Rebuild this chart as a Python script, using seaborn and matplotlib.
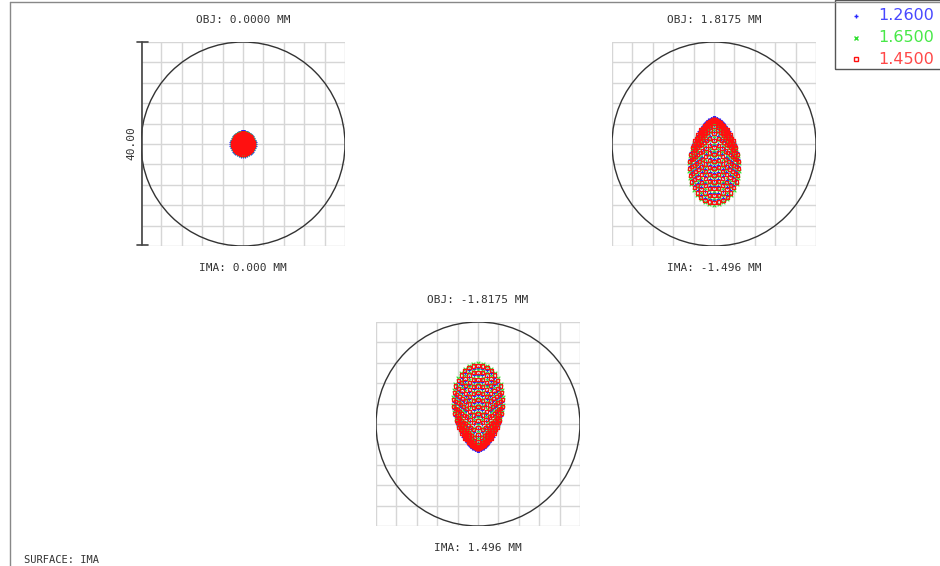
import numpy as np
import pandas as pd
import matplotlib.pyplot as plt
import seaborn as sns
from matplotlib.patches import Circle, Rectangle
from matplotlib.lines import Line2D

sns.set_style("white")
plt.rcParams["font.family"] = ["DejaVu Sans Mono", "DejaVu Sans"]

# wavelengths (um) and how each one is drawn
wavelengths = ["1.2600", "1.6500", "1.4500"]
wave_colors = ["#2828ff", "#30e030", "#ff1010"]
text_colors = ["#4848ff", "#48e848", "#ff4848"]
wave_markers = ["+", "x", "s"]

obj_labels = ["OBJ: 0.0000 MM", "OBJ: 1.8175 MM", "OBJ: -1.8175 MM"]
ima_labels = ["IMA: 0.000 MM", "IMA: -1.496 MM", "IMA: 1.496 MM"]

# spot extents, micrometres (box = 40 um, circle r = 20 um)
# rows = field, columns = wavelength (1.26, 1.65, 1.45)
spot_top = [[2.3, 2.1, 2.0], [5.1, 4.3, 4.7], [-5.1, -4.3, -4.7]]
spot_bottom = [[-2.3, -2.1, -2.0], [-11.0, -11.9, -11.5], [11.0, 11.9, 11.5]]
spot_halfwidth = [[2.3, 2.1, 2.0], [4.7, 4.9, 4.8], [4.7, 4.9, 4.8]]
tip_sharpness = [0.0, 0.12, 0.12]

# pupil rings (ring i carries 3*i rays)
n_rings = 12

rows = []
for f in range(3):
    k = tip_sharpness[f]
    norm = 1.0
    if k > 0:
        t = np.linspace(0, np.pi, 721)
        norm = np.max(np.sin(t) * ((1 - np.cos(t)) / 2) ** k)
    for w in range(3):
        half_len = (spot_top[f][w] - spot_bottom[f][w]) / 2
        for i in range(n_rings + 1):
            rho = i / n_rings
            n = max(1, 3 * i)
            th = 2 * np.pi * (np.arange(n) + 0.5 * (i % 2)) / n
            x = spot_halfwidth[f][w] * rho * np.sin(th) * ((1 - np.cos(th)) / 2) ** k / norm
            y = spot_top[f][w] - half_len * rho * (1 - np.cos(th))
            for xx, yy in zip(x, y):
                rows.append((f, wavelengths[w], xx, yy))
spots = pd.DataFrame(rows, columns=["field", "wave", "x", "y"])

W, H = 940, 566
fig = plt.figure(figsize=(W / 100, H / 100), dpi=100)


def fx(px):
    return px / W


def fy(py):
    return 1 - py / H


# panel boxes in pixels: left, top; square side
panels = [(141, 42), (612, 42), (376, 322)]
box = 204

for f, (left, top) in enumerate(panels):
    ax = fig.add_axes([fx(left), fy(top + box), box / W, box / H])
    for t in np.linspace(-20, 20, 11):
        ax.axvline(t, color="#d6d6d6", lw=1, zorder=0)
        ax.axhline(t, color="#d6d6d6", lw=1, zorder=0)
    ax.add_patch(Circle((0, 0), 20, fill=False, ec="#333333", lw=1.0, zorder=1))
    sub = spots[spots["field"] == f]
    for w, wave in enumerate(wavelengths):
        d = sub[sub["wave"] == wave]
        if wave_markers[w] == "s":
            sns.scatterplot(data=d, x="x", y="y", ax=ax, marker="s", s=5,
                            facecolor="none", edgecolor=wave_colors[w], linewidth=0.9,
                            zorder=3 + w, legend=False)
        else:
            sns.scatterplot(data=d, x="x", y="y", ax=ax, marker=wave_markers[w], s=7,
                            color=wave_colors[w], linewidth=0.8, zorder=3 + w, legend=False)
    ax.set_xlim(-20, 20)
    ax.set_ylim(-20, 20)
    ax.set_xticks([])
    ax.set_yticks([])
    ax.set_xlabel("")
    ax.set_ylabel("")
    for s in ax.spines.values():
        s.set_visible(False)
    cx = left + box / 2
    fig.text(fx(cx), fy(top - 22), obj_labels[f], ha="center", va="center",
             fontsize=8, color="#333333")
    fig.text(fx(cx), fy(top + box + 22), ima_labels[f], ha="center", va="center",
             fontsize=8, color="#333333")

# scale bar on first panel
bar_x = 142
fig.add_artist(Line2D([fx(bar_x), fx(bar_x)], [fy(42), fy(245)], color="#444444", lw=1.2))
for yy in (42, 245):
    fig.add_artist(Line2D([fx(137), fx(148)], [fy(yy), fy(yy)], color="#444444", lw=1.2))
fig.text(fx(131), fy(143), "40.00", rotation=90, ha="center", va="center",
         fontsize=8, color="#333333")

# outer frame
fig.add_artist(Line2D([fx(10), fx(10)], [fy(2), 0], color="#888888", lw=1))
fig.add_artist(Line2D([fx(10), 1], [fy(2), fy(2)], color="#888888", lw=1))

fig.text(fx(24), fy(560), "SURFACE: IMA", ha="left", va="center", fontsize=7.5, color="#333333")

# legend box
fig.add_artist(Rectangle((fx(835), fy(69)), fx(110), 69 / H, fill=False,
                         ec="#555555", lw=1, transform=fig.transFigure))
for i, wave in enumerate(wavelengths):
    yy = fy(16 + 21.5 * i)
    mk = wave_markers[i]
    if mk == "s":
        fig.add_artist(Line2D([fx(856)], [yy], marker="s", ms=3, mfc="none",
                              mec=wave_colors[i], mew=1, ls="none"))
    else:
        fig.add_artist(Line2D([fx(856)], [yy], marker=mk, ms=3.5,
                              color=wave_colors[i], mew=1, ls="none"))
    fig.text(fx(878), yy, wave, ha="left", va="center", fontsize=11.5,
             family="DejaVu Sans", color=text_colors[i])

fig.savefig("out.png", dpi=100)
